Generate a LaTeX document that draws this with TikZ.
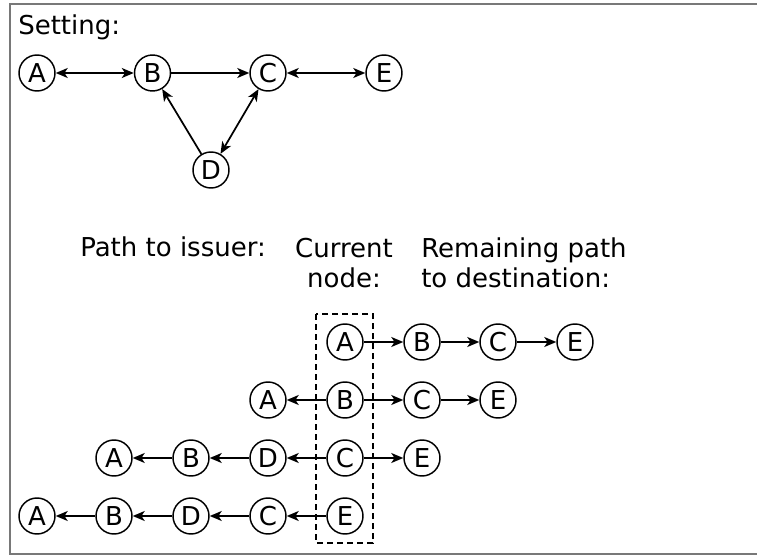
\documentclass[tikz,border=0pt]{standalone}
\usepackage{fontspec}
\setmainfont{DejaVu Sans}
\usetikzlibrary{arrows.meta}

\definecolor{framegray}{RGB}{120,120,120}

\tikzset{
  peer/.style={circle, draw, line width=1.1pt, minimum size=27pt, inner sep=0pt},
  link/.style={line width=1.3pt, -{Stealth[length=9pt,width=7.5pt,inset=2.5pt]}},
  blink/.style={line width=1.3pt, {Stealth[length=9pt,width=7.5pt,inset=2.5pt]}-{Stealth[length=9pt,width=7.5pt,inset=2.5pt]}},
  label/.style={anchor=base west, inner sep=0pt},
}

\begin{document}
\begin{tikzpicture}[x=0.75pt, y=-0.75pt, font=\fontsize{19.5}{22.5}\selectfont]
  \useasboundingbox (0,0) rectangle (757,556);

  % Frame
  \draw[line width=1.1pt, framegray] (10,4) rectangle (760,554);

  % Setting
  \node[label] (setting) at (18,35) {Setting:};
  \node[peer] (sA) at (37,73) {A};
  \node[peer] (sB) at (152.5,73) {B};
  \node[peer] (sC) at (268,73) {C};
  \node[peer] (sE) at (384,73) {E};
  \node[peer] (sD) at (211,170) {D};

  \draw[blink] (sA) -- (sB);
  \draw[link] (sB) -- (sC);
  \draw[blink] (sC) -- (sE);
  \draw[link] (sD) -- (sB);
  \draw[blink] (sC) -- (sD);

  % Headings (base = last line)
  \node[label] (issuer) at (80,257) {Path to issuer:};
  \node[anchor=base, inner sep=0pt, align=center] (current) at (344,287) {Current\\node:};
  \node[label, align=left] (remaining) at (421,287) {Remaining path\\to destination:};

  % Current node column
  \draw[line width=1.1pt, dashed, dash pattern=on 4.5pt off 3pt] (316,314) rectangle (373,543);

  % Row 1
  \node[peer] (aA) at (345,342) {A};
  \node[peer] (aB) at (422,342) {B};
  \node[peer] (aC) at (498,342) {C};
  \node[peer] (aE) at (575,342) {E};
  \draw[link] (aA) -- (aB);
  \draw[link] (aB) -- (aC);
  \draw[link] (aC) -- (aE);

  % Row 2
  \node[peer] (bA) at (268,400) {A};
  \node[peer] (bB) at (345,400) {B};
  \node[peer] (bC) at (422,400) {C};
  \node[peer] (bE) at (498,400) {E};
  \draw[link] (bB) -- (bA);
  \draw[link] (bB) -- (bC);
  \draw[link] (bC) -- (bE);

  % Row 3
  \node[peer] (cA) at (114,458) {A};
  \node[peer] (cB) at (191,458) {B};
  \node[peer] (cD) at (268,458) {D};
  \node[peer] (cC) at (345,458) {C};
  \node[peer] (cE) at (422,458) {E};
  \draw[link] (cB) -- (cA);
  \draw[link] (cD) -- (cB);
  \draw[link] (cC) -- (cD);
  \draw[link] (cC) -- (cE);

  % Row 4
  \node[peer] (dA) at (37,516) {A};
  \node[peer] (dB) at (114,516) {B};
  \node[peer] (dD) at (191,516) {D};
  \node[peer] (dC) at (268,516) {C};
  \node[peer] (dE) at (345,516) {E};
  \draw[link] (dB) -- (dA);
  \draw[link] (dD) -- (dB);
  \draw[link] (dC) -- (dD);
  \draw[link] (dE) -- (dC);
\end{tikzpicture}
\end{document}
